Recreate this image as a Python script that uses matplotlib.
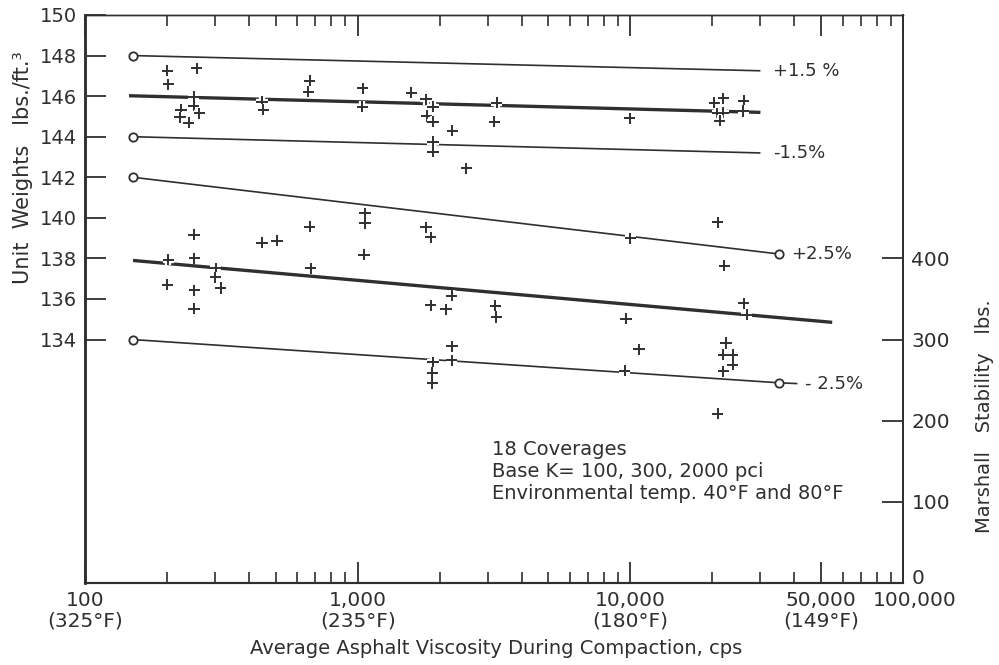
import numpy as np
import matplotlib
matplotlib.use('Agg')
import matplotlib.pyplot as plt
import matplotlib.patheffects as pe
import matplotlib.transforms as mtransforms
from matplotlib.ticker import FixedLocator, NullFormatter

ink = '#2f2f2f'
plt.rcParams['font.family'] = ['DejaVu Sans']
plt.rcParams['text.color'] = ink

# fitted lines (viscosity cps, unit weight pcf)
plus15_x = [150, 30000]
plus15_y = [148.0, 147.25]
opt_hi_x = [145, 30000]
opt_hi_y = [146.02, 145.2]
minus15_x = [150, 30000]
minus15_y = [144.0, 143.2]
plus25_x = [150, 35000]
plus25_y = [142.0, 138.22]
opt_lo_x = [150, 55000]
opt_lo_y = [137.9, 134.85]
minus25_x = [150, 35000]
minus25_y = [134.0, 131.87]
minus25_tail_x = [35000, 41000]
minus25_tail_y = [131.87, 131.83]

# measured points, upper group
up_x = [200, 202, 257, 250, 250, 225, 223, 240, 262, 446, 450, 668, 660,
        1045, 1040, 1570, 1780, 1890, 1790, 1890, 2220, 1890, 1890, 2500,
        3230, 3170, 9960, 20280, 21900, 26100, 20800, 21900, 21300, 26000]
up_y = [147.26, 146.59, 147.37, 145.98, 145.52, 145.32, 144.96, 144.69, 145.16,
        145.73, 145.32, 146.76, 146.22, 146.39, 145.48, 146.17, 145.85, 145.48,
        145.02, 144.74, 144.30, 143.76, 143.27, 142.45, 145.68, 144.74, 144.91,
        145.68, 145.90, 145.78, 145.16, 145.19, 144.78, 145.27]

# measured points, lower group
lo_x = [251, 202, 252, 302, 301, 200, 252, 315, 251, 446, 506, 666, 673,
        1064, 1064, 1055, 1780, 1855, 2210, 1855, 2108, 3200, 3220, 2218, 2210,
        1890, 1880, 1880, 10000, 9640, 10760, 9550, 20950, 22100, 26100, 26700,
        22440, 21900, 23770, 23770, 21900, 20950]
lo_y = [139.16, 137.93, 138.01, 137.52, 137.08, 136.70, 136.42, 136.54, 135.52,
        138.78, 138.88, 139.57, 137.52, 140.23, 139.74, 138.18, 139.54, 139.05,
        136.16, 135.68, 135.50, 135.67, 135.11, 133.66, 132.97, 132.87, 132.35,
        131.86, 139.0, 135.02, 133.53, 132.46, 139.79, 137.65, 135.80, 135.22,
        133.83, 133.25, 133.25, 132.76, 132.43, 130.34]

x_major = [100, 1000, 10000, 50000, 100000]
x_major_labels = ['100\n(325°F)', '1,000\n(235°F)', '10,000\n(180°F)',
                  '50,000\n(149°F)', '100,000']
x_minor = [200, 300, 400, 500, 600, 700, 800, 900,
           2000, 3000, 4000, 5000, 6000, 7000, 8000, 9000,
           20000, 30000, 40000, 60000, 70000, 80000, 90000]
y_left_ticks = [134, 136, 138, 140, 142, 144, 146, 148, 150]
y_right_ticks = [0, 100, 200, 300, 400]

fig = plt.figure(figsize=(9.99, 6.65), dpi=100)
ax = fig.add_axes([85 / 999, 82 / 665, 818 / 999, 568 / 665])

thin = dict(color=ink, lw=1.2, solid_capstyle='butt')
thick = dict(color=ink, lw=2.4, solid_capstyle='butt')
circ = dict(marker='o', ms=6, mfc='white', mec=ink, mew=1.3)

ax.plot(plus15_x, plus15_y, **thin)
ax.plot(plus15_x[:1], plus15_y[:1], ls='none', **circ)
ax.plot(opt_hi_x, opt_hi_y, **thick)
ax.plot(minus15_x, minus15_y, **thin)
ax.plot(minus15_x[:1], minus15_y[:1], ls='none', **circ)
ax.plot(plus25_x, plus25_y, **thin)
ax.plot(plus25_x, plus25_y, ls='none', **circ)
ax.plot(opt_lo_x, opt_lo_y, **thick)
ax.plot(minus25_x, minus25_y, **thin)
ax.plot(minus25_tail_x, minus25_tail_y, **thin)
ax.plot(minus25_x, minus25_y, ls='none', **circ)

halo = [pe.withStroke(linewidth=4.5, foreground='white')]
for xs, ys in [(up_x, up_y), (lo_x, lo_y)]:
    ax.plot(xs, ys, ls='none', marker='+', ms=8, mew=1.4, color=ink,
            path_effects=halo, zorder=5)

fs = 13
ax.annotate('+1.5 %', xy=(plus15_x[1], plus15_y[1]), xytext=(9, 0),
            textcoords='offset points', va='center', fontsize=fs)
ax.annotate('-1.5%', xy=(minus15_x[1], minus15_y[1]), xytext=(9, 0),
            textcoords='offset points', va='center', fontsize=fs)
ax.annotate('+2.5%', xy=(plus25_x[1], plus25_y[1]), xytext=(9, 0),
            textcoords='offset points', va='center', fontsize=fs)
ax.annotate('- 2.5%', xy=(minus25_x[1], minus25_y[1]), xytext=(19, -1),
            textcoords='offset points', va='center', fontsize=fs)

ax.text(0.497, 0.196, '18 Coverages\nBase K= 100, 300, 2000 pci\n'
        'Environmental temp. 40°F and 80°F', transform=ax.transAxes,
        fontsize=14, va='center', ha='left', linespacing=1.2)

tfs = 14.5
ax.set_xscale('log')
ax.set_xlim(100, 100000)
ax.set_ylim(122, 150)
ax.xaxis.set_major_locator(FixedLocator(x_major))
ax.xaxis.set_minor_locator(FixedLocator(x_minor))
ax.set_xticklabels(x_major_labels)
ax.xaxis.set_minor_formatter(NullFormatter())
ax.tick_params(axis='x', which='major', direction='in', length=15, width=1.3,
               top=True, labelsize=tfs, pad=6, colors=ink)
ax.tick_params(axis='x', which='minor', direction='in', length=8, width=1.2,
               top=True, colors=ink)
for lbl in ax.get_xticklabels():
    lbl.set_linespacing(1.05)
ax.set_yticks(y_left_ticks)
ax.set_yticklabels([str(v) for v in y_left_ticks])
ax.tick_params(axis='y', direction='in', length=15, width=1.3, labelsize=14,
               pad=6, colors=ink)

ax2 = ax.twinx()
ax2.set_ylim(0, 700)
ax2.set_yticks(y_right_ticks)
ax2.tick_params(axis='y', direction='in', length=15, width=1.3, labelsize=tfs,
                pad=6, colors=ink)

# nudge the corner labels apart as in the original
last = ax.get_xticklabels()[-1]
last.set_transform(last.get_transform() +
                   mtransforms.ScaledTranslation(12 / 100, 0, fig.dpi_scale_trans))
zero = ax2.get_yticklabels()[0]
zero.set_transform(zero.get_transform() +
                   mtransforms.ScaledTranslation(0, 6 / 100, fig.dpi_scale_trans))

for a in (ax, ax2):
    a.spines['left'].set_linewidth(1.8)
    a.spines['bottom'].set_linewidth(1.5)
    a.spines['top'].set_linewidth(1.0)
    a.spines['right'].set_linewidth(1.3)
    for s in a.spines.values():
        s.set_color(ink)

fig.text(23 / 999, 1 - 168 / 665, 'Unit  Weights   lbs./ft.³', rotation=90,
         ha='center', va='center', fontsize=15)
fig.text(985 / 999, 1 - 416 / 665, 'Marshall   Stability   lbs.', rotation=90,
         ha='center', va='center', fontsize=14)
fig.text(496 / 999, 1 - 648 / 665,
         'Average Asphalt Viscosity During Compaction, cps',
         ha='center', va='center', fontsize=14)

fig.savefig('out.png', dpi=100)
